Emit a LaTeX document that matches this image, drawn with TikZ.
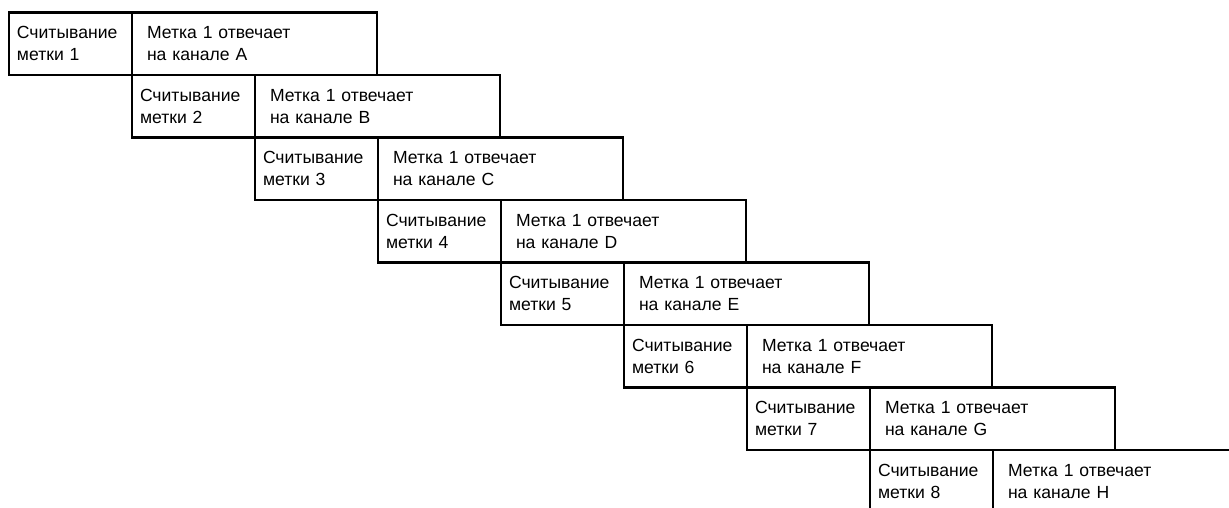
\documentclass[tikz,border=0pt]{standalone}
\usepackage{fontspec}
\setmainfont{Liberation Sans}
\usetikzlibrary{positioning}
\tikzset{
  read/.style={draw, line width=1.6pt, outer sep=0pt, minimum width=3.075cm, minimum height=1.5625cm,
    text width=2.675cm, align=left, inner xsep=0.2cm, inner ysep=0pt, font=\fontsize{12.5}{15.6}\selectfont},
  answer/.style={read, minimum width=6.125cm, text width=5.375cm, inner xsep=0.375cm}
}
\begin{document}
\begin{tikzpicture}
  \clip (0,0) rectangle (30.725,-12.675);
  \node[read, anchor=north west] (read1) at (0.225,-0.3125) {Считывание\\метки 1};
  \node[answer, right=0pt of read1] (answer1) {Метка 1 отвечает\\на канале A};
  \node[read, below right=0pt and 0pt of read1] (read2) {Считывание\\метки 2};
  \node[answer, right=0pt of read2] (answer2) {Метка 1 отвечает\\на канале B};
  \node[read, below right=0pt and 0pt of read2] (read3) {Считывание\\метки 3};
  \node[answer, right=0pt of read3] (answer3) {Метка 1 отвечает\\на канале C};
  \node[read, below right=0pt and 0pt of read3] (read4) {Считывание\\метки 4};
  \node[answer, right=0pt of read4] (answer4) {Метка 1 отвечает\\на канале D};
  \node[read, below right=0pt and 0pt of read4] (read5) {Считывание\\метки 5};
  \node[answer, right=0pt of read5] (answer5) {Метка 1 отвечает\\на канале E};
  \node[read, below right=0pt and 0pt of read5] (read6) {Считывание\\метки 6};
  \node[answer, right=0pt of read6] (answer6) {Метка 1 отвечает\\на канале F};
  \node[read, below right=0pt and 0pt of read6] (read7) {Считывание\\метки 7};
  \node[answer, right=0pt of read7] (answer7) {Метка 1 отвечает\\на канале G};
  \node[read, below right=0pt and 0pt of read7] (read8) {Считывание\\метки 8};
  \node[answer, right=0pt of read8] (answer8) {Метка 1 отвечает\\на канале H};
\end{tikzpicture}
\end{document}
